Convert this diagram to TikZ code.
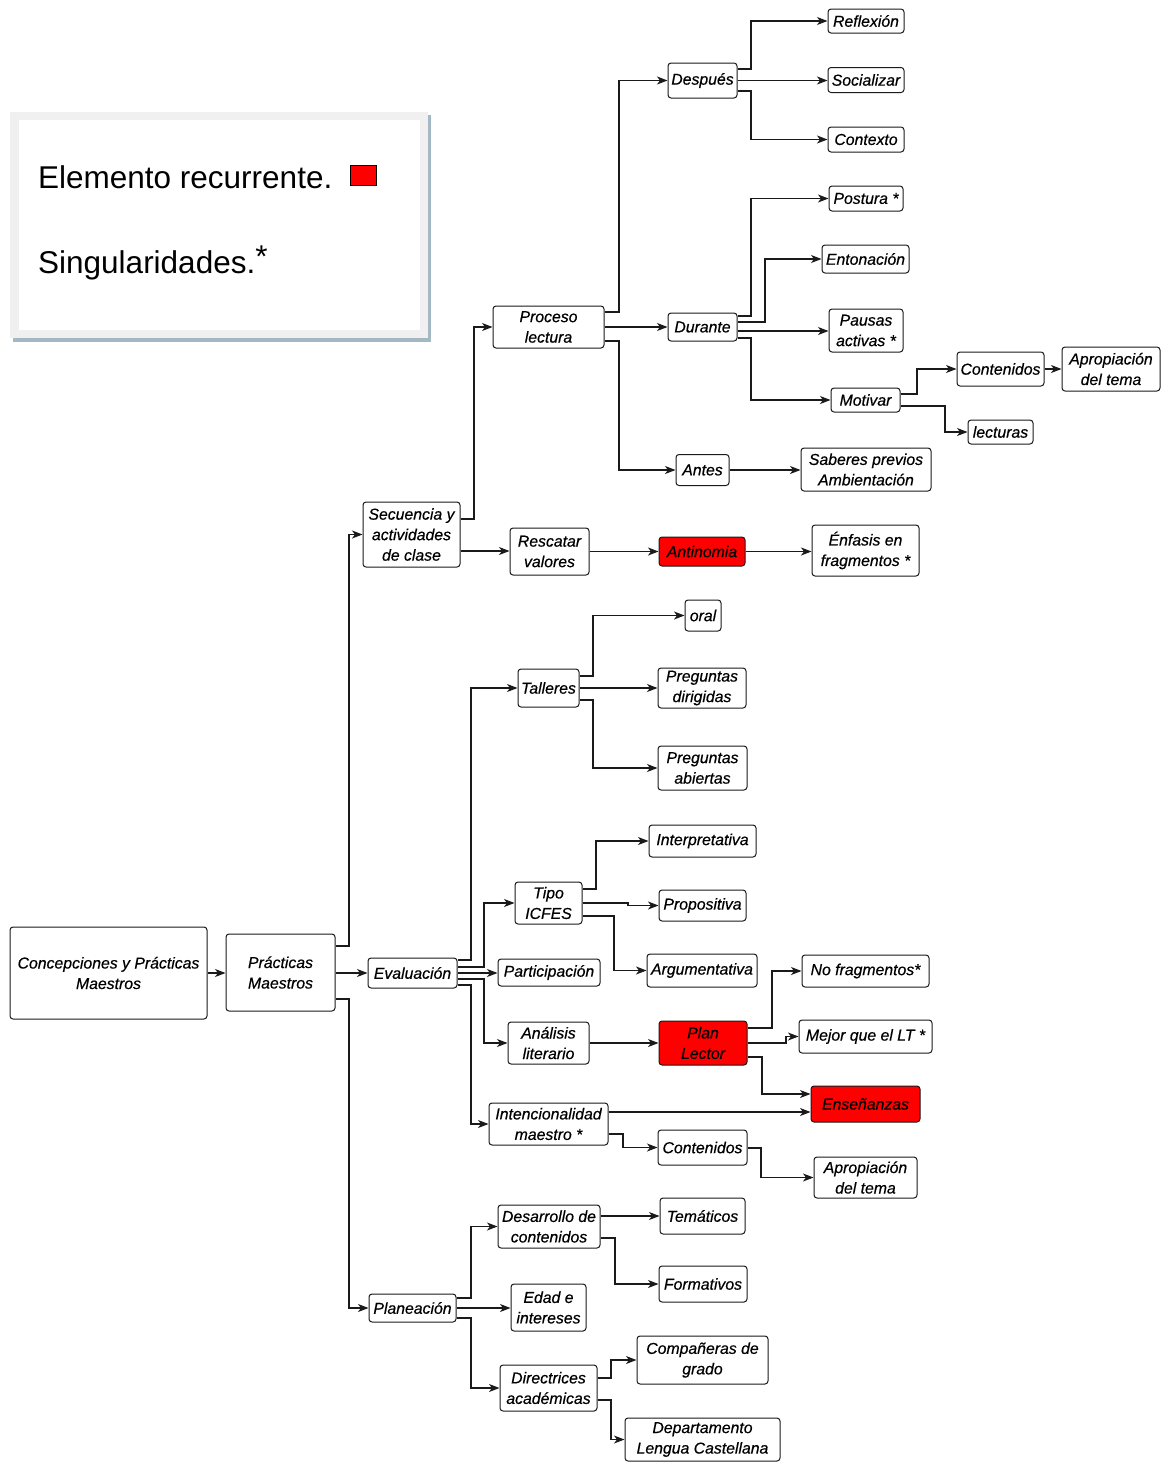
\documentclass[tikz,border=0pt]{standalone}
\usepackage{fontspec}
\setmainfont{Liberation Sans}
\newfontfamily\labfont[FakeBold=0.5]{Liberation Sans Italic}
\usetikzlibrary{arrows.meta}
\newcommand\lab{\fontsize{15.8}{20.5}\selectfont\labfont}
\newcommand\legf{\fontsize{31.5}{36}\selectfont}
\definecolor{shadowc}{HTML}{A3B8C2}
\definecolor{bandc}{HTML}{F0F0F0}
\definecolor{linec}{HTML}{1A1A1A}
\begin{document}
\begin{tikzpicture}[x=1pt,y=-1pt,
 bx/.style={draw=linec, rounded corners=3pt, fill=white, line width=1pt, align=center, inner sep=0pt, font=\lab},
 rbx/.style={bx, fill=red},
 arr/.style={draw=linec, line width=1.1pt, -{Stealth[length=10.5pt,width=8pt,inset=3pt]}}]
\useasboundingbox (0,0) rectangle (1165,1462);
% legend
\fill[shadowc] (13,115) rectangle (431,342);
\fill[bandc] (10,112) rectangle (428,338);
\fill[white] (19,120) rectangle (420,330);
\node[anchor=base west, inner sep=0pt, font=\legf] (leg1) at (38,188) {Elemento recurrente.};
\draw[fill=red, line width=0.9pt] (350,165) rectangle (376,185);
\node[anchor=base west, inner sep=0pt, font=\legf] (leg2) at (38,273) {Singularidades.\raisebox{6pt}{*}};
% nodes
\node[bx,minimum width=197pt,minimum height=92pt] (conc) at (108.5,973) {Concepciones y Prácticas\\Maestros};
\node[bx,minimum width=109pt,minimum height=77pt] (prac) at (280.5,972.5) {Prácticas\\Maestros};
\node[bx,minimum width=97pt,minimum height=65pt] (secu) at (411.5,534.5) {Secuencia y\\actividades\\de clase};
\node[bx,minimum width=89pt,minimum height=30pt] (eval) at (412.5,973) {Evaluación};
\node[bx,minimum width=87pt,minimum height=28pt] (plan) at (412.5,1308) {Planeación};
\node[bx,minimum width=111pt,minimum height=42pt] (proc) at (548.5,327) {Proceso\\lectura};
\node[bx,minimum width=79pt,minimum height=47pt] (resc) at (549.5,551.5) {Rescatar\\valores};
\node[bx,minimum width=69pt,minimum height=35pt] (desp) at (702.5,80.5) {Después};
\node[bx,minimum width=76pt,minimum height=24pt] (refl) at (866,21) {Reflexión};
\node[bx,minimum width=76pt,minimum height=25pt] (soci) at (866,80) {Socializar};
\node[bx,minimum width=76pt,minimum height=25pt] (ctxt) at (866,139.5) {Contexto};
\node[bx,minimum width=69pt,minimum height=28pt] (dura) at (702.5,327) {Durante};
\node[bx,minimum width=74pt,minimum height=25pt] (post) at (866,198.5) {Postura *};
\node[bx,minimum width=87pt,minimum height=28pt] (ento) at (865.5,259) {Entonación};
\node[bx,minimum width=74pt,minimum height=43pt] (paus) at (866,330.5) {Pausas\\activas *};
\node[bx,minimum width=69pt,minimum height=24pt] (moti) at (865.5,400) {Motivar};
\node[bx,minimum width=87pt,minimum height=34pt] (cnt1) at (1000.5,369) {Contenidos};
\node[bx,minimum width=98pt,minimum height=44pt] (apr1) at (1111,369) {Apropiación\\del tema};
\node[bx,minimum width=65pt,minimum height=24pt] (lect) at (1000.5,432) {lecturas};
\node[bx,minimum width=53pt,minimum height=31pt] (ante) at (702.5,470) {Antes};
\node[bx,minimum width=130pt,minimum height=43pt] (sabe) at (866,469.5) {Saberes previos\\Ambientación};
\node[rbx,minimum width=86pt,minimum height=29pt] (anti) at (702,551.5) {Antinomia};
\node[bx,minimum width=107pt,minimum height=51pt] (enfa) at (865.5,550.5) {Énfasis en\\fragmentos *};
\node[bx,minimum width=61pt,minimum height=38pt] (tall) at (548.5,688) {Talleres};
\node[bx,minimum width=36pt,minimum height=31pt] (oral) at (703,615.5) {oral};
\node[bx,minimum width=88pt,minimum height=40pt] (pdir) at (702,688) {Preguntas\\dirigidas};
\node[bx,minimum width=89pt,minimum height=44pt] (pabi) at (702.5,768) {Preguntas\\abiertas};
\node[bx,minimum width=67pt,minimum height=42pt] (tipo) at (548.5,903) {Tipo\\ICFES};
\node[bx,minimum width=107pt,minimum height=32pt] (intp) at (702.5,841) {Interpretativa};
\node[bx,minimum width=87pt,minimum height=31pt] (prop) at (702.5,905.5) {Propositiva};
\node[bx,minimum width=110pt,minimum height=33pt] (argu) at (702,970.5) {Argumentativa};
\node[bx,minimum width=102pt,minimum height=27pt] (part) at (549,972.5) {Participación};
\node[bx,minimum width=81pt,minimum height=42pt] (anal) at (548.5,1043) {Análisis\\literario};
\node[rbx,minimum width=88pt,minimum height=44pt] (plec) at (703,1043) {Plan\\Lector};
\node[bx,minimum width=127pt,minimum height=32pt] (nofr) at (865.5,971) {No fragmentos*};
\node[bx,minimum width=133pt,minimum height=33pt] (mejo) at (865.5,1036.5) {Mejor que el LT *};
\node[rbx,minimum width=109pt,minimum height=36pt] (ense) at (865.5,1104) {Enseñanzas};
\node[bx,minimum width=119pt,minimum height=42pt] (inte) at (548.5,1124) {Intencionalidad\\maestro *};
\node[bx,minimum width=89pt,minimum height=35pt] (cnt2) at (702.5,1147.5) {Contenidos};
\node[bx,minimum width=103pt,minimum height=41pt] (apr2) at (865.5,1177.5) {Apropiación\\del tema};
\node[bx,minimum width=102pt,minimum height=43pt] (desa) at (549,1226.5) {Desarrollo de\\contenidos};
\node[bx,minimum width=85pt,minimum height=36pt] (tema) at (702.5,1216) {Temáticos};
\node[bx,minimum width=88pt,minimum height=36pt] (form) at (703,1284) {Formativos};
\node[bx,minimum width=75pt,minimum height=47pt] (edad) at (548.5,1307.5) {Edad e\\intereses};
\node[bx,minimum width=97pt,minimum height=46pt] (dire) at (548.5,1388) {Directrices\\académicas};
\node[bx,minimum width=131pt,minimum height=48pt] (comp) at (702.5,1360) {Compañeras de\\grado};
\node[bx,minimum width=155pt,minimum height=43pt] (depa) at (702.5,1439.5) {Departamento\\Lengua Castellana};
% connectors
\draw[arr] (conc.east) -- (prac.west |- conc.east);
\draw[arr] (prac.east |- 0,946) -- (349,946) |- (secu.west);
\draw[arr] (prac.east |- 0,973) -- (eval.west);
\draw[arr] (prac.east |- 0,999) -- (349,999) |- (plan.west);
\draw[arr] (secu.east |- 0,519) -- (474,519) |- (proc.west);
\draw[arr] (secu.east |- 0,551) -- (resc.west |- 0,551);
\draw[arr] (proc.east |- 0,312) -- (619,312) |- (desp.west);
\draw[arr] (proc.east) -- (dura.west);
\draw[arr] (proc.east |- 0,341) -- (619,341) |- (ante.west);
\draw[arr] (desp.east |- 0,69) -- (751,69) |- (refl.west);
\draw[arr] (desp.east) -- (soci.west |- desp.east);
\draw[arr] (desp.east |- 0,91) -- (751,91) |- (ctxt.west);
\draw[arr] (dura.east |- 0,316) -- (751,316) |- (post.west);
\draw[arr] (dura.east |- 0,322) -- (765,322) |- (ento.west);
\draw[arr] (dura.east |- 0,331) -- (paus.west |- 0,331);
\draw[arr] (dura.east |- 0,338) -- (751,338) |- (moti.west);
\draw[arr] (moti.east |- 0,394) -- (917,394) |- (cnt1.west);
\draw[arr] (moti.east |- 0,406) -- (945,406) |- (lect.west);
\draw[arr] (cnt1.east) -- (apr1.west);
\draw[arr] (ante.east) -- (sabe.west |- ante.east);
\draw[arr] (resc.east) -- (anti.west |- resc.east);
\draw[arr] (anti.east) -- (enfa.west |- anti.east);
\draw[arr] (eval.east |- 0,960) -- (471,960) |- (tall.west);
\draw[arr] (eval.east |- 0,967) -- (484,967) |- (tipo.west);
\draw[arr] (eval.east |- 0,973) -- (part.west |- 0,973);
\draw[arr] (eval.east |- 0,979) -- (484,979) |- (anal.west);
\draw[arr] (eval.east |- 0,985) -- (471,985) |- (inte.west);
\draw[arr] (tall.east |- 0,676) -- (593,676) |- (oral.west);
\draw[arr] (tall.east) -- (pdir.west);
\draw[arr] (tall.east |- 0,700) -- (593,700) |- (pabi.west);
\draw[arr] (tipo.east |- 0,889) -- (596,889) |- (intp.west);
\draw[arr] (tipo.east |- 0,903) -- (628,903) |- (prop.west);
\draw[arr] (tipo.east |- 0,916) -- (614,916) |- (argu.west);
\draw[arr] (anal.east) -- (plec.west);
\draw[arr] (plec.east |- 0,1028) -- (772,1028) |- (nofr.west);
\draw[arr] (plec.east |- 0,1043) -- (786,1043) |- (mejo.west);
\draw[arr] (plec.east |- 0,1057) -- (762,1057) |- (ense.west |- 0,1094);
\draw[arr] (inte.east |- 0,1112) -- (ense.west |- 0,1112);
\draw[arr] (inte.east |- 0,1134) -- (623,1134) |- (cnt2.west);
\draw[arr] (cnt2.east |- 0,1148) -- (761,1148) |- (apr2.west);
\draw[arr] (plan.east |- 0,1298) -- (471,1298) |- (desa.west);
\draw[arr] (plan.east) -- (edad.west |- plan.east);
\draw[arr] (plan.east |- 0,1318) -- (471,1318) |- (dire.west);
\draw[arr] (desa.east |- 0,1216) -- (tema.west |- 0,1216);
\draw[arr] (desa.east |- 0,1238) -- (615,1238) |- (form.west);
\draw[arr] (dire.east |- 0,1378) -- (611,1378) |- (comp.west);
\draw[arr] (dire.east |- 0,1400) -- (611,1400) |- (depa.west);
\end{tikzpicture}
\end{document}
